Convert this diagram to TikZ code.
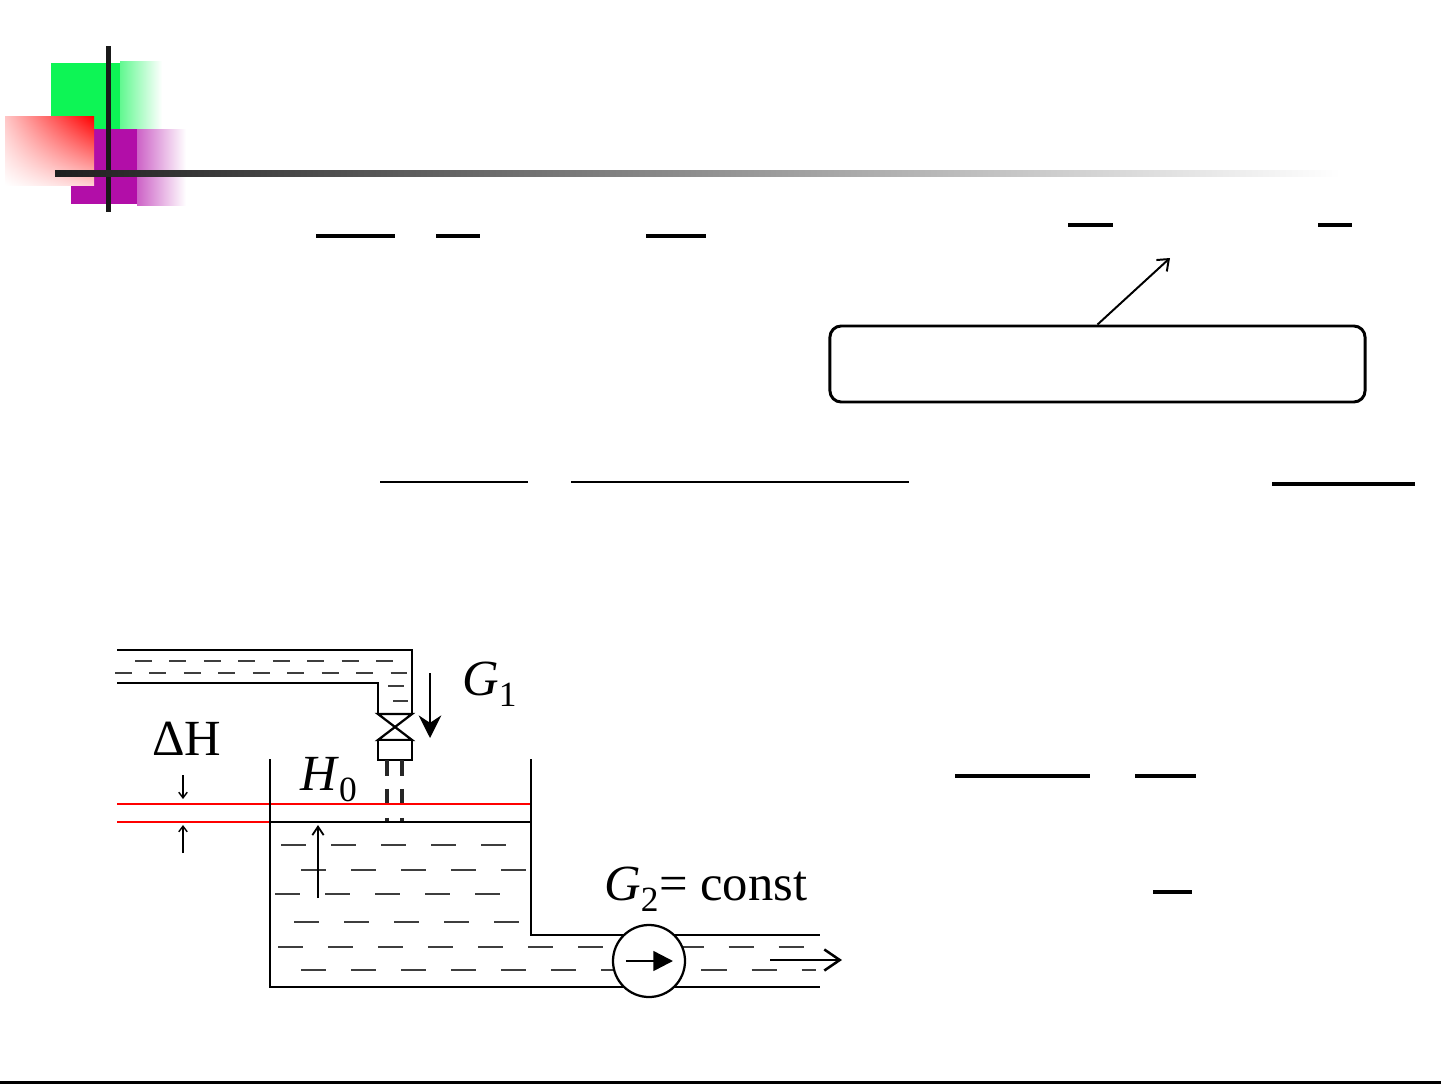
\documentclass[tikz,border=0pt]{standalone}
\usepackage{fontspec}
\setmainfont{Liberation Serif}
\usepackage{amsmath}
\usetikzlibrary{arrows.meta, positioning, shapes.geometric, shadings}

\definecolor{slidegreen}{RGB}{13,245,85}
\definecolor{slidemag}{RGB}{178,14,168}
\definecolor{liquidgray}{RGB}{62,62,62}

\tikzset{
    fracbar/.style={
        draw=black,
        line width=2.3pt
    },
    thinbar/.style={
        draw=black,
        line width=1.6pt
    },
    callout/.style={
        rectangle,
        draw=black,
        line width=2.1pt,
        rounded corners=8pt,
        minimum width=13.375cm,
        minimum height=1.9cm,
        fill=white
    },
    pointer/.style={
        draw=black,
        line width=1.4pt,
        -{Straight Barb[length=7pt,width=11pt]}
    },
    wall/.style={
        draw=black,
        line width=1.6pt
    },
    liquid/.style={
        draw=liquidgray,
        line width=1.8pt,
        dash pattern=on 17.8pt off 17.8pt
    },
    pipeliquid/.style={
        draw=liquidgray,
        line width=1.7pt,
        dash pattern=on 12pt off 12.5pt
    },
    level/.style={
        draw=red,
        line width=1.5pt
    },
    stream/.style={
        draw=black!85,
        line width=2.6pt,
        dash pattern=on 11.4pt off 9.2pt
    },
    flow/.style={
        draw=black,
        line width=2pt,
        -{Stealth[length=16pt,width=16pt]}
    },
    tick/.style={
        draw=black,
        line width=1pt,
        -{Straight Barb[length=4pt,width=6pt]}
    },
    pump/.style={
        circle,
        draw=black,
        line width=1.6pt,
        fill=white,
        minimum size=1.8cm
    },
    lbl/.style={
        font=\fontsize{36}{40}\selectfont,
        inner sep=0pt
    }
}

\begin{document}
\begin{tikzpicture}[x=0.025cm, y=-0.025cm]

\fill[white] (0,0) rectangle (1441,1084);
\useasboundingbox (0,0) rectangle (1441,1084);

% Slide decoration
\fill[slidegreen] (51,63) rectangle (121,129);
\shade[left color=slidegreen!65, right color=white] (120,62) rectangle (162,129);
\fill[slidemag] (71,129) rectangle (137,204);
\shade[left color=slidemag!65, right color=white] (137,129) rectangle (186,205);
\shade[upper right=red, upper left=red!22, lower right=red!18, lower left=white] (5,117) rectangle (94,185);
\fill[black!90] (106,46) rectangle (111,212);
\shade[left color=black!88, right color=white] (55,170) rectangle (1340,176);

% Fraction bars
\foreach \xa/\xb/\yy in {316/395/236, 436/480/236, 646/706/236, 1068/1113/225, 1318/1352/225, 1272/1415/484, 955/1090/776, 1135/1196/776, 1153/1192/892}
    \draw[fracbar] (\xa,\yy) -- (\xb,\yy);
\foreach \xa/\xb/\yy in {380/528/482, 571/909/482}
    \draw[thinbar] (\xa,\yy) -- (\xb,\yy);

% Callout box
\node[callout] (note) at (1097.5,364) {};
\coordinate (target) at (1170,258);
\draw[pointer] (note.north) -- (target);

% Supply pipe
\draw[wall] (117,650) -- (412,650) -- (412,714);
\draw[wall] (117,683) -- (378,683) -- (378,714);
\draw[pipeliquid] (135,661) -- (400,661);
\draw[pipeliquid] (115,673) -- (408,673);
\draw[pipeliquid] (388,686) -- (404,686);
\draw[pipeliquid] (393,701) -- (408,701);

% Valve
\draw[wall, fill=white] (378,714) -- (412,714) -- (378,740) -- (412,740) -- cycle;
\draw[wall, fill=white] (378,740) rectangle (412,760);
\draw[stream] (387,760) -- (387,822);
\draw[stream] (402,760) -- (402,822);

% Tank liquid
\foreach \yy/\xs/\xe in {845/281/508, 870/301/527, 894/275/500, 922/294/521, 947/278/816, 970/301/816}
    \draw[liquid] (\xs,\yy) -- (\xe,\yy);

% Levels
\draw[level] (117,804) -- (531,804);
\draw[level] (117,822) -- (270,822);
\draw[wall] (270,822) -- (531,822);

% Tank and outlet
\draw[wall] (270,759) -- (270,987) -- (820,987);
\draw[wall] (531,759) -- (531,935) -- (820,935);

% Pump
\node[pump] (pump) at (649,961) {};
\draw[draw=black, line width=1.8pt, -{Triangle[length=14pt,width=14pt]}] ([xshift=-0.58cm]pump.center) -- ([xshift=0.6cm]pump.center);
\coordinate (outA) at (770,960);
\coordinate (outB) at (842,960);
\draw[draw=black, line width=1.8pt, -{Straight Barb[length=11pt,width=15pt]}] (outA) -- (outB);

% Flow and level arrows
\coordinate (g1top) at (430,673);
\coordinate (g1tip) at (430,738);
\draw[flow] (g1top) -- (g1tip);
\draw[tick] (183,775) -- (183,799);
\draw[tick] (183,853) -- (183,825);
\draw[tick, line width=1.3pt, -{Straight Barb[length=6pt,width=8pt]}] (318,898) -- (318,825);

% Labels
\node[lbl, anchor=base west] (g1) at (462,695) {\textit{G}$_{\text{1}}$};
\node[lbl, anchor=base west] (dh) at (152,755) {ΔH};
\node[lbl, anchor=base west] (h0) at (300,790) {\textit{H}$_{\text{0}}$};
\node[lbl, anchor=base west] (g2) at (604,900) {\textit{G}$_{\text{2}}$= const};

% Bottom rule
\draw[line width=1.5pt] (0,1082.5) -- (1441,1082.5);

\end{tikzpicture}
\end{document}
